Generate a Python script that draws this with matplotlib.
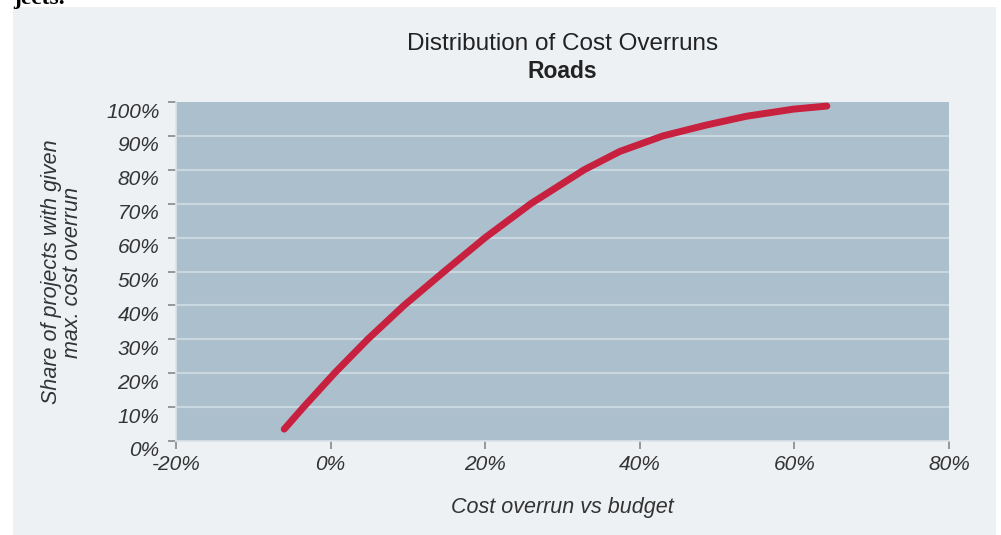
import matplotlib.pyplot as plt
import matplotlib.transforms as mtransforms
from matplotlib.patches import Rectangle

# Data: cost overrun (%) vs cumulative share of projects (%)
overrun = [-6.0, -3.5, 0.5, 4.8, 9.5, 14.7, 20.0, 25.9, 32.8, 37.4, 43.0, 48.6, 53.8, 59.9, 64.2]
share = [3.5, 10, 20, 30, 40, 50, 60, 70, 80, 85.4, 90, 93.2, 95.8, 97.9, 98.8]

xticks = [-20, 0, 20, 40, 60, 80]
yticks = list(range(0, 101, 10))

plt.rcParams['font.family'] = ['Liberation Sans', 'DejaVu Sans']

fig = plt.figure(figsize=(10.01, 5.35), dpi=100)
fig.patch.set_facecolor("white")

# light panel behind the chart
fig.patches.append(Rectangle((13 / 1001, 0), 983 / 1001, 528 / 535,
                             transform=fig.transFigure, facecolor="#eef1f4",
                             edgecolor="none", zorder=-5))
fig.text(13 / 1001, 1 - 4 / 535, "jects.", fontsize=17, fontweight="bold",
         family="Liberation Serif", va="baseline", ha="left", color="black")

ax = fig.add_axes([176 / 1001, 94 / 535, 773 / 1001, 339 / 535])
ax.set_facecolor("#acbfcc")

ax.plot(overrun, share, color="#c8203f", lw=5, solid_capstyle="round",
        solid_joinstyle="round", zorder=3)

ax.set_xlim(-20, 80)
ax.set_ylim(0, 100)
ax.set_xticks(xticks)
ax.set_yticks(yticks)
ax.set_xticklabels([f"{t}%" for t in xticks])
ax.set_yticklabels([f"{t}%" for t in yticks])

for t in yticks[1:-1]:
    ax.axhline(t, color="#c9d7e1", lw=1.5, zorder=1)

for s in ["top", "right"]:
    ax.spines[s].set_visible(False)
for s in ["left", "bottom"]:
    ax.spines[s].set_color("#dde4ea")
    ax.spines[s].set_linewidth(1.2)

ax.tick_params(axis="both", direction="out", length=6, width=1.2,
               color="#888888", labelsize=15, labelcolor="#333333")
ax.tick_params(axis="x", pad=4)
ax.tick_params(axis="y", pad=6)

offset = mtransforms.ScaledTranslation(0, -8 / 100, fig.dpi_scale_trans)
for lab in ax.get_yticklabels():
    lab.set_fontstyle("italic")
    lab.set_transform(lab.get_transform() + offset)
for lab in ax.get_xticklabels():
    lab.set_fontstyle("italic")

ax.set_xlabel("Cost overrun vs budget", fontsize=15.5, style="italic",
              color="#333333", labelpad=17)
fig.text(62 / 1001, 1 - 272 / 535, "Share of projects with given\nmax. cost overrun",
         rotation=90, ha="center", va="center", fontsize=15.5, style="italic",
         color="#333333", linespacing=1.05)

fig.text(562.5 / 1001, 1 - 44 / 535, "Distribution of Cost Overruns", ha="center",
         va="center", fontsize=17.5, color="#222222")
fig.text(562.5 / 1001, 1 - 71 / 535, "Roads", ha="center", va="center",
         fontsize=16.5, fontweight="bold", color="#222222")

fig.savefig("out.png", dpi=100)
